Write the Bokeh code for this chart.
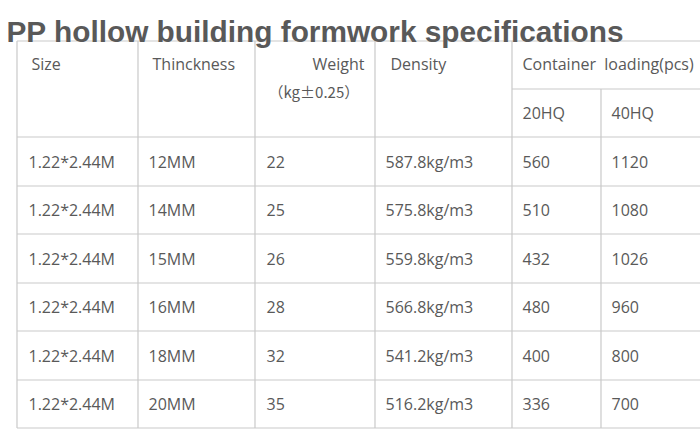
from bokeh.plotting import figure
from bokeh.models import Range1d, ColumnDataSource
from bokeh.core.properties import value
from bokeh.embed import file_html
from bokeh.resources import INLINE

title_text = "PP hollow building formwork specifications"
header_top = ["Size", "Thinckness", "Weight", "Density", "Container\u00a0 loading(pcs)"]
weight_unit = "（kg±0.25）"
sub_headers = ["20HQ", "40HQ"]

sizes = ["1.22*2.44M"] * 6
thickness = ["12MM", "14MM", "15MM", "16MM", "18MM", "20MM"]
weights = ["22", "25", "26", "28", "32", "35"]
densities = ["587.8kg/m3", "575.8kg/m3", "559.8kg/m3", "566.8kg/m3", "541.2kg/m3", "516.2kg/m3"]
hq20 = ["560", "510", "432", "480", "400", "336"]
hq40 = ["1120", "1080", "1026", "960", "800", "700"]

# layout (screen pixels)
W, H = 700, 430
col_x = [16.5, 137.5, 254.5, 374.5, 511.5, 600.5, 720]
top_y = 40.5
sub_y = 88.5
row_y = [136.5, 185.5, 233.5, 282.5, 330.5, 379.5, 427.5]
text_x = [28, 148, 266, 385, 522, 611]

TEXT = "#595959"
LINE = "#c9c9c9"
FONT = "Open Sans"
FS = "16px"

p = figure(width=W, height=H, output_backend="svg", toolbar_location=None,
           x_range=Range1d(0, W), y_range=Range1d(H, 0),
           min_border=0)
p.axis.visible = False
p.grid.visible = False
p.outline_line_color = None
p.background_fill_color = "white"
p.border_fill_color = "white"

# horizontal lines
hx0, hx1, hy = [], [], []
for y in [top_y] + row_y:
    hx0.append(col_x[0]); hx1.append(col_x[-1]); hy.append(y)
hx0.append(col_x[4]); hx1.append(col_x[-1]); hy.append(sub_y)
p.segment(x0=hx0, x1=hx1, y0=hy, y1=hy, line_color=LINE, line_width=1.2)

# vertical lines
vx, vy0, vy1 = [], [], []
for i, x in enumerate(col_x[:-1]):
    y0 = sub_y if i == 5 else top_y
    vx.append(x); vy0.append(y0); vy1.append(row_y[-1])
p.segment(x0=vx, x1=vx, y0=vy0, y1=vy1, line_color=LINE, line_width=1.2)

# title
p.text(x=[6], y=[31], text=[title_text], text_font=value("Liberation Sans"),
       text_font_style="bold", text_font_size="29.8px", text_color=TEXT,
       text_baseline="alphabetic")

# headers
p.text(x=[31, 152, 390, 522], y=[63, 63, 63, 63],
       text=[header_top[0], header_top[1], header_top[3], header_top[4]],
       text_font=value(FONT), text_font_size=FS, text_color=TEXT,
       text_baseline="middle")
p.text(x=[364], y=[63], text=[header_top[2]], text_font=value(FONT),
       text_font_size=FS, text_color=TEXT, text_baseline="middle", text_align="right")
p.text(x=[268], y=[91], text=[weight_unit], text_font=value("Noto Sans CJK SC"),
       text_font_size="15px", text_color=TEXT, text_baseline="middle")
p.text(x=[522, 611], y=[112, 112], text=sub_headers, text_font=value(FONT),
       text_font_size=FS, text_color=TEXT, text_baseline="middle")

# data cells
cols = [sizes, thickness, weights, densities, hq20, hq40]
xs, ys, ts = [], [], []
for c, col in enumerate(cols):
    for r, v in enumerate(col):
        xs.append(text_x[c])
        ys.append((row_y[r] + row_y[r + 1]) / 2)
        ts.append(v)
src = ColumnDataSource(dict(x=xs, y=ys, t=ts))
p.text(x="x", y="y", text="t", source=src, text_font=value(FONT),
       text_font_size=FS, text_color=TEXT, text_baseline="middle")

open("out.html", "w").write(file_html(p, INLINE))
